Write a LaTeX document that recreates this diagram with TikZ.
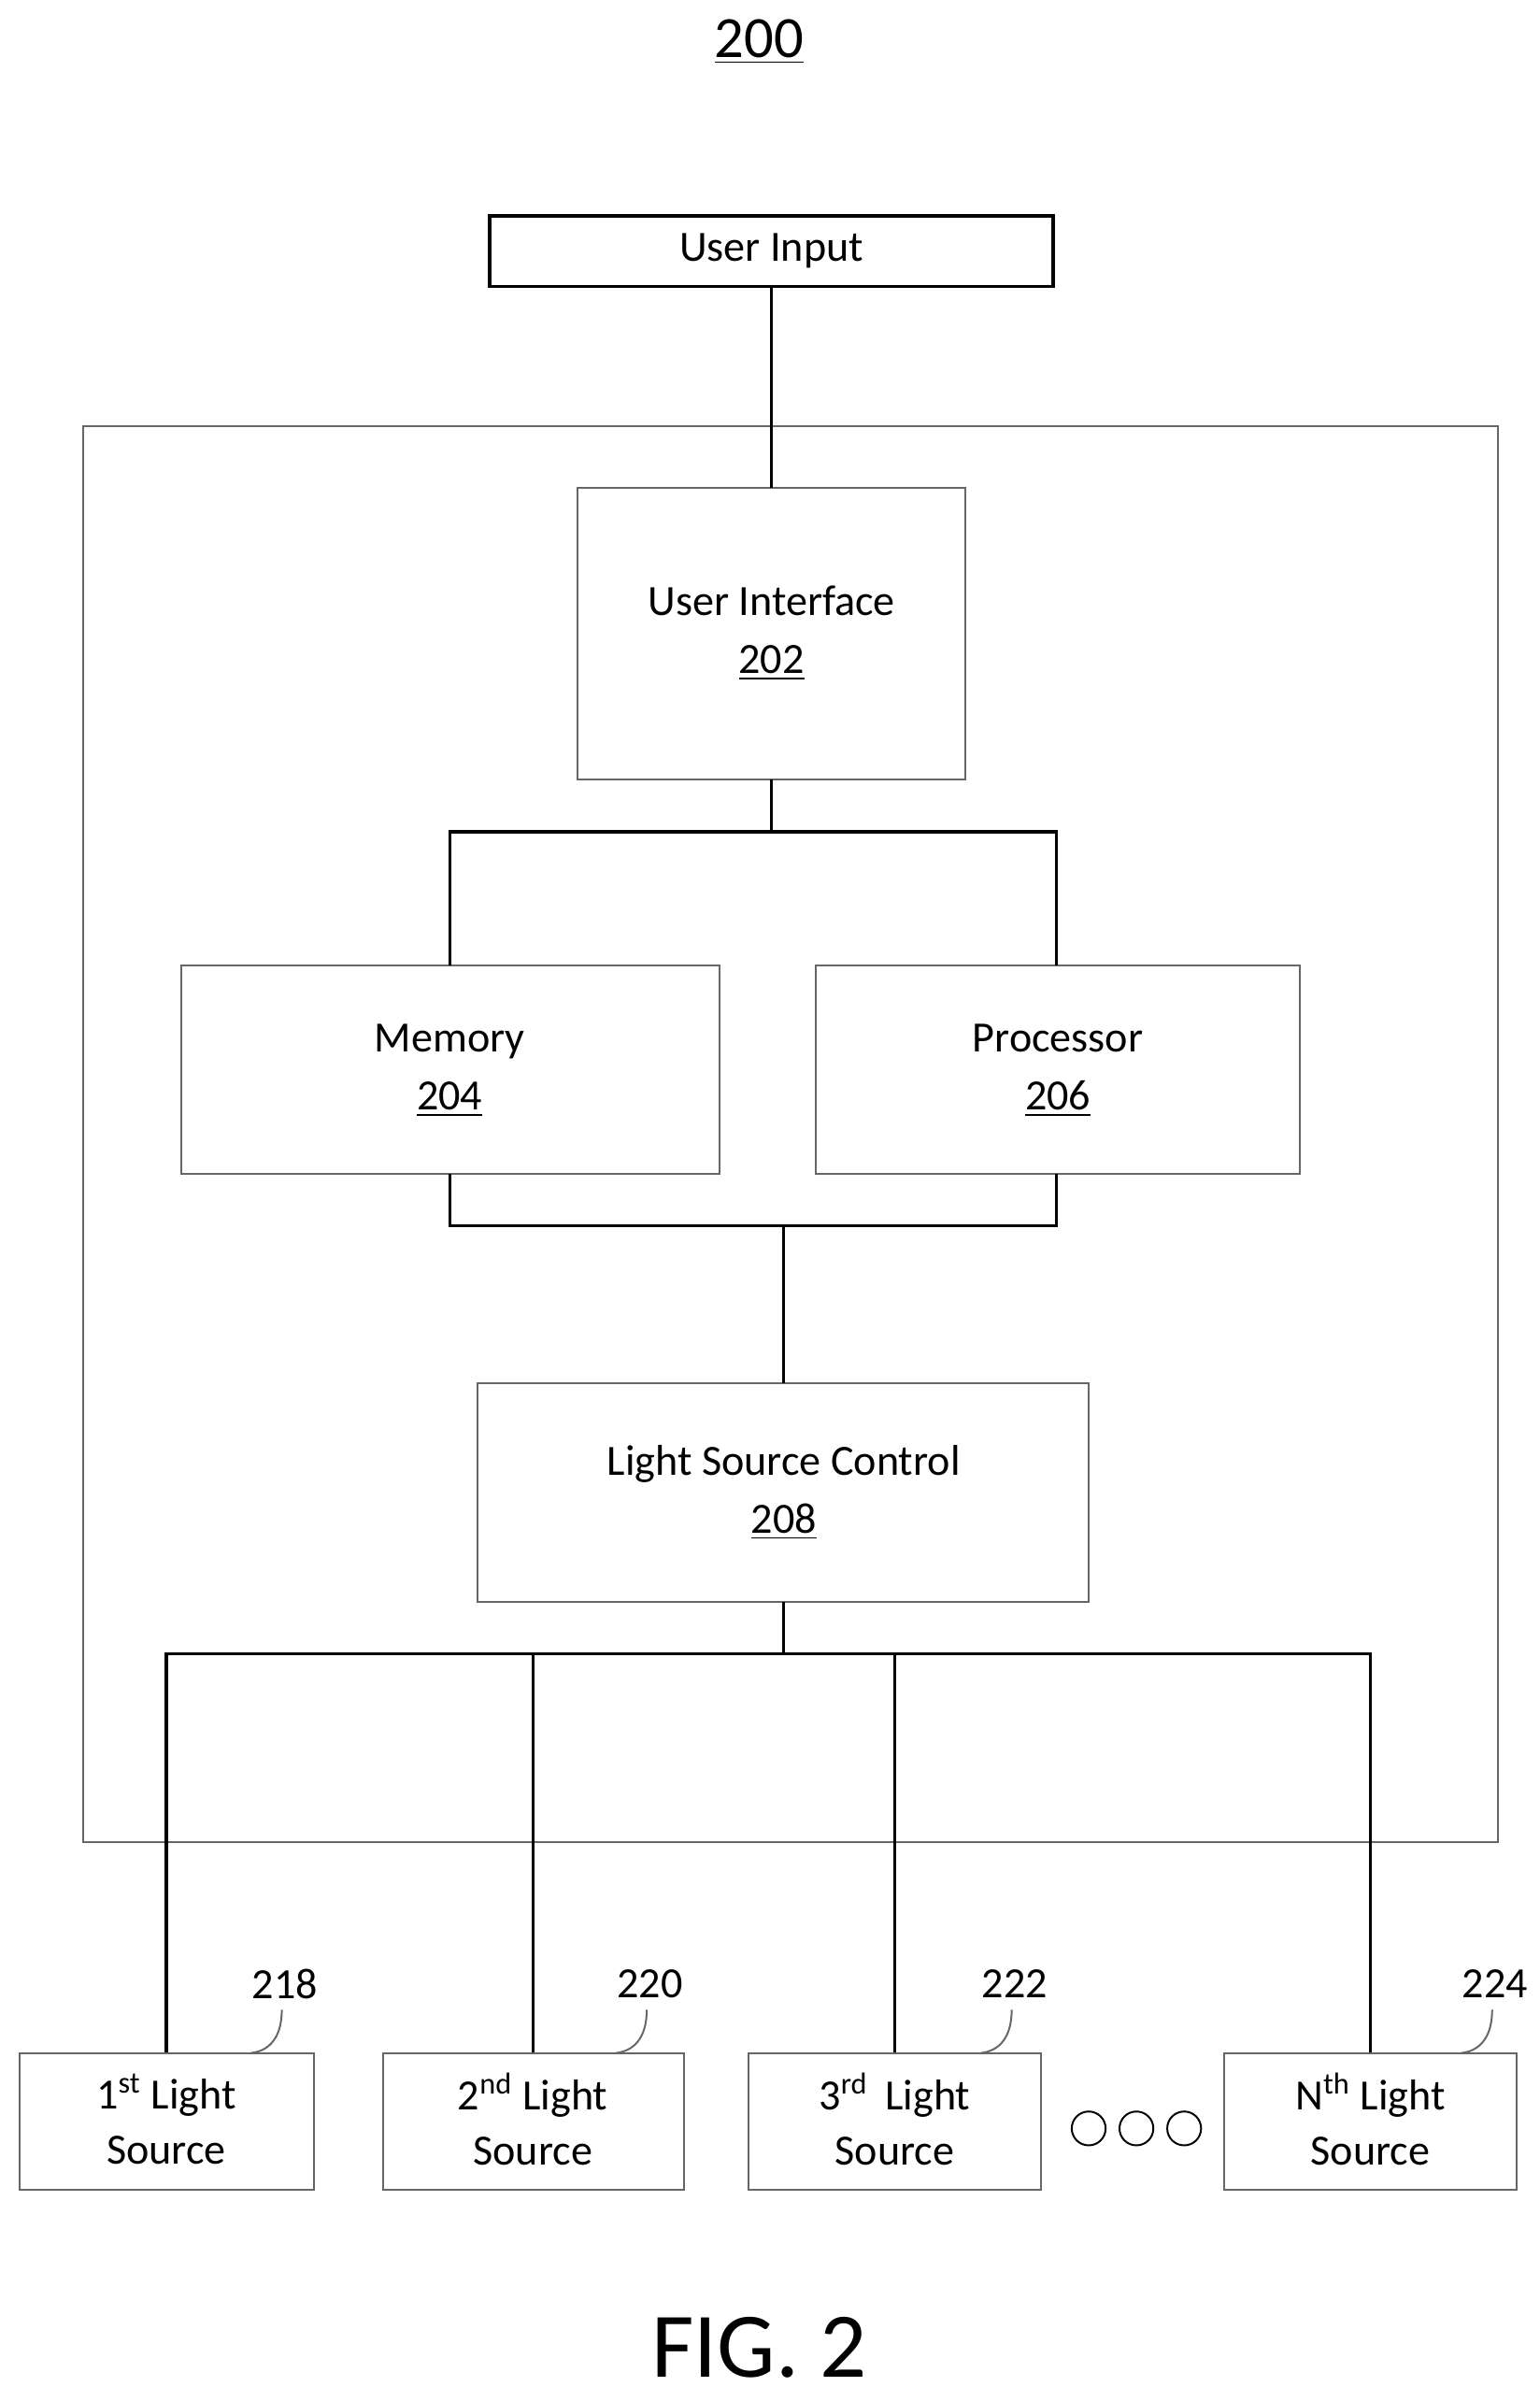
\documentclass[tikz,border=0pt]{standalone}
\usepackage{fontspec}
\setmainfont{Carlito}
\begin{document}
\begin{tikzpicture}[x=0.5pt,y=-0.5pt,
  box/.style={draw=black!60,line width=0.6pt},
  lbl/.style={font=\fontsize{14}{18}\selectfont,align=center},
  wire/.style={draw=black,line width=1pt}]
\useasboundingbox (0,0) rectangle (1000,1559);
\node[font=\fontsize{19}{22}\selectfont] (t) at (493,27) {\underline{200}};
\draw[line width=1.2pt] (318,140) rectangle (684,186);
\node[lbl] (ui) at (501,163) {User Input};
\draw[box] (54,277) rectangle (973,1196);
\draw[box] (375,317) rectangle (627,506);
\node[lbl] (uif) at (501,411) {User Interface\\[1pt]\underline{202}};
\draw[box] (118,627) rectangle (467,762);
\node[lbl] (mem) at (292,695) {Memory\\[1pt]\underline{204}};
\draw[box] (530,627) rectangle (844,762);
\node[lbl] (proc) at (687,695) {Processor\\[1pt]\underline{206}};
\draw[box] (310,898) rectangle (707,1040);
\node[lbl] (lsc) at (509,969) {Light Source Control\\[1pt]\underline{208}};
\draw[wire] (501,186) -- (501,317);
\draw[wire] (501,506) -- (501,540) (292,627) -- (292,540) -- (686,540) -- (686,627);
\draw[wire] (292,762) -- (292,796) -- (686,796) -- (686,762) (509,796) -- (509,898);
\draw[wire] (509,1040) -- (509,1074) (108,1333) -- (108,1074) -- (890,1074) -- (890,1333)
  (346,1074) -- (346,1333) (581,1074) -- (581,1333);
\foreach \a/\b/\c/\t/\n/\lx in {13/204/108/1\textsuperscript{st}/218/185, 249/444/346/2\textsuperscript{nd}/220/422, 486/676/581/3\textsuperscript{rd}\,/222/659, 795/985/890/N\textsuperscript{th}/224/971}{
  \draw[box] (\a,1333) rectangle (\b,1422);
  \node[lbl] at (\c,1376) {\t{} Light\\[0pt]Source};
  \node[lbl] at (\lx,1288) {\n};
  \draw[black!60,line width=0.6pt] (\lx-2,1305) .. controls (\lx-2,1325) and (\lx-12,1332) .. (\lx-22,1333);
}
\foreach \x in {707,738,769} \draw[line width=0.6pt] (\x,1382) circle (11);
\node[font=\fontsize{30}{34}\selectfont] (fig) at (493,1524) {FIG. 2};
\end{tikzpicture}
\end{document}
